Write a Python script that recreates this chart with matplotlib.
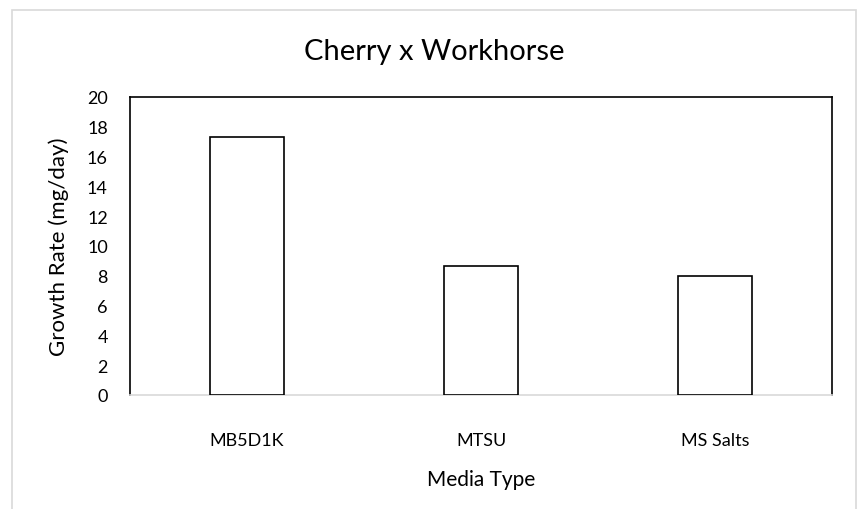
import matplotlib
matplotlib.use('Agg')
import matplotlib.pyplot as plt
from matplotlib.patches import Rectangle

# Chart data
media_types = ['MB5D1K', 'MTSU', 'MS Salts']
growth_rate = [17.3, 8.65, 8.02]
y_ticks = [0, 2, 4, 6, 8, 10, 12, 14, 16, 18, 20]

plt.rcParams['font.family'] = ['Lato', 'DejaVu Sans']

fig = plt.figure(figsize=(8.58, 5.1), dpi=100)
ax = fig.add_axes([130 / 858, 1 - 396 / 510, 702 / 858, 298 / 510])

# Light grey frame round the whole chart, as Excel draws it
fig.patches.append(Rectangle((12 / 858, -0.01), 844 / 858, 1 - 11 / 510 + 0.01,
                             transform=fig.transFigure, fill=False,
                             edgecolor='#d9d9d9', linewidth=1.2, zorder=0))

x = range(len(media_types))
ax.bar(x, growth_rate, width=0.32, color='white', edgecolor='black', linewidth=1.2, zorder=3)

ax.set_xlim(-0.5, len(media_types) - 0.5)
ax.set_ylim(0, 20)
ax.set_yticks(y_ticks)
ax.set_xticks(list(x))
ax.set_xticklabels(media_types)
ax.tick_params(axis='both', length=0, labelsize=13)
ax.tick_params(axis='y', pad=16)
ax.tick_params(axis='x', pad=27)

for side in ['left', 'top', 'right']:
    ax.spines[side].set_color('black')
    ax.spines[side].set_linewidth(1.2)
ax.spines['bottom'].set_color('#d9d9d9')
ax.spines['bottom'].set_linewidth(1.2)

# Title is centred on the whole chart area, not on the plot area
fig.text(434 / 858, 1 - 60 / 510, 'Cherry x Workhorse', fontsize=21,
         ha='center', va='baseline')
ax.set_xlabel('Media Type', fontsize=15, labelpad=15)
ax.set_ylabel('Growth Rate (mg/day)', fontsize=16, labelpad=13)

fig.savefig('out.png', dpi=100)
